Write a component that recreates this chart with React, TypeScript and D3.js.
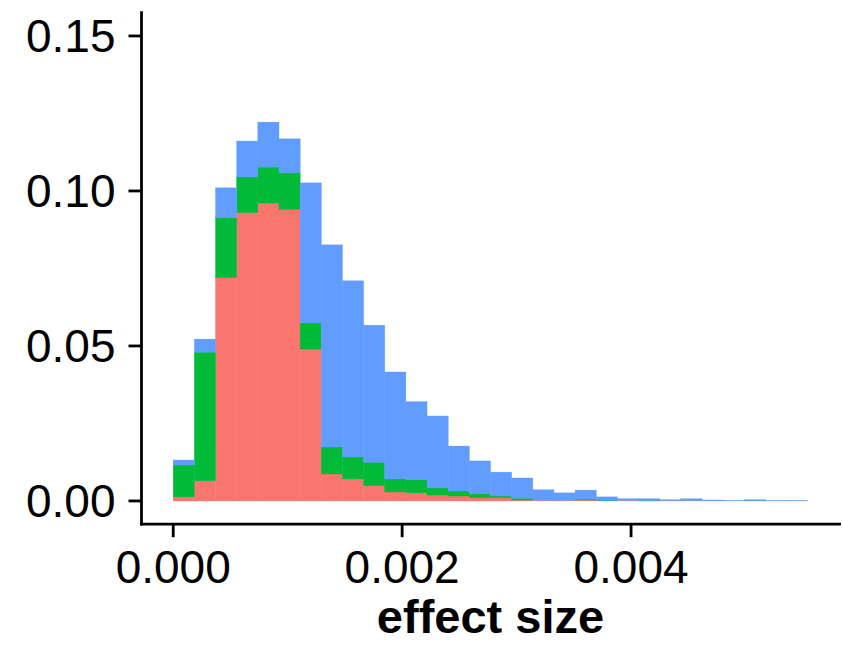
import React from "react";
import * as d3 from "d3";

// bin width and count (histogram of effect sizes, 30 bins)
const binWidth = 0.0001848;
const binIndex = d3.range(30);

// stacked segment heights per bin (density proportion)
const redValues = [
  0.0013, 0.0065, 0.072, 0.093, 0.0961, 0.094, 0.049, 0.0087, 0.0071, 0.0049,
  0.0029, 0.0026, 0.0019, 0.0016, 0.001, 0.001, 0.0003, 0.0002, 0.0002, 0.0003,
  0.0, 0.0002, 0.0, 0.0001, 0.0001, 0.0, 0.0, 0.0, 0.0, 0.0,
];
const greenValues = [
  0.0103, 0.0415, 0.0194, 0.0115, 0.0116, 0.0118, 0.0084, 0.0087, 0.0071, 0.0076,
  0.0042, 0.0042, 0.0023, 0.0016, 0.0013, 0.0006, 0.0006, 0.0, 0.0, 0.0003,
  0.0002, 0.0, 0.0002, 0.0, 0.0, 0.0, 0.0, 0.0001, 0.0, 0.0,
];
const blueValues = [
  0.0016, 0.0042, 0.0096, 0.0116, 0.0145, 0.011, 0.0452, 0.0652, 0.0568, 0.0442,
  0.0345, 0.0252, 0.0232, 0.0145, 0.0106, 0.0077, 0.0065, 0.0034, 0.0024, 0.0029,
  0.0011, 0.0005, 0.0005, 0.0003, 0.0006, 0.0003, 0.0001, 0.0003, 0.0001, 0.0001,
];

const seriesKeys = ["red", "green", "blue"];
const seriesColors = ["#F8766D", "#00BA38", "#619CFF"];

const xTicks = [0, 0.002, 0.004];
const xTickLabels = ["0.000", "0.002", "0.004"];
const yTicks = [0, 0.05, 0.1, 0.15];
const yTickLabels = ["0.00", "0.05", "0.10", "0.15"];
const xTitle = "effect size";

const W = 843;
const H = 646;
const panel = { left: 141.5, right: 839.5, top: 12.7, bottom: 524.2 };
const FONT = "'Liberation Sans', Arial, Helvetica, sans-serif";

export default function App() {
  const maxX = binWidth * binIndex.length;
  const padX = maxX * 0.05;
  const x = d3.scaleLinear().domain([-padX, maxX + padX]).range([panel.left, panel.right]);
  const y = d3.scaleLinear().domain([-0.0075, 0.1575]).range([panel.bottom, panel.top]);

  const rows = binIndex.map((i) => ({
    i,
    red: redValues[i],
    green: greenValues[i],
    blue: blueValues[i],
  }));
  const stacked = d3.stack<any>().keys(seriesKeys)(rows);

  const tickLen = 13;

  return (
    <svg
      width={W}
      height={H}
      style={{ position: "absolute", left: 0, top: 0, background: "#fff" }}
      fontFamily={FONT}
    >
      <rect x={0} y={0} width={W} height={H} fill="#fff" />
      {stacked.map((layer, li) => (
        <g key={seriesKeys[li]} fill={seriesColors[li]} stroke={seriesColors[li]} strokeWidth={0.4}>
          {layer.map((d, bi) => {
            const x0 = x(bi * binWidth);
            const x1 = x((bi + 1) * binWidth);
            const y0 = y(d[0]);
            const y1 = y(d[1]);
            const h = y0 - y1;
            if (h <= 0) return null;
            return <rect key={bi} x={x0} y={y1} width={x1 - x0} height={h} />;
          })}
        </g>
      ))}
      {/* axes */}
      <line
        x1={panel.left}
        x2={panel.left}
        y1={panel.top}
        y2={panel.bottom}
        stroke="#000"
        strokeWidth={2.8}
        strokeLinecap="square"
      />
      <line
        x1={panel.left}
        x2={panel.right}
        y1={panel.bottom}
        y2={panel.bottom}
        stroke="#000"
        strokeWidth={2.8}
        strokeLinecap="square"
      />
      {yTicks.map((t, i) => (
        <g key={"y" + i}>
          <line
            x1={panel.left - tickLen}
            x2={panel.left}
            y1={y(t)}
            y2={y(t)}
            stroke="#000"
            strokeWidth={2.8}
          />
          <text
            x={panel.left - tickLen - 13}
            y={y(t)}
            dy="0.34em"
            textAnchor="end"
            fontSize={46}
            fill="#000"
          >
            {yTickLabels[i]}
          </text>
        </g>
      ))}
      {xTicks.map((t, i) => (
        <g key={"x" + i}>
          <line
            x1={x(t)}
            x2={x(t)}
            y1={panel.bottom}
            y2={panel.bottom + tickLen}
            stroke="#000"
            strokeWidth={2.8}
          />
          <text x={x(t)} y={583} textAnchor="middle" fontSize={46} fill="#000">
            {xTickLabels[i]}
          </text>
        </g>
      ))}
      <text
        x={(panel.left + panel.right) / 2}
        y={633}
        textAnchor="middle"
        fontSize={47}
        fontWeight="bold"
        fill="#000"
      >
        {xTitle}
      </text>
    </svg>
  );
}
